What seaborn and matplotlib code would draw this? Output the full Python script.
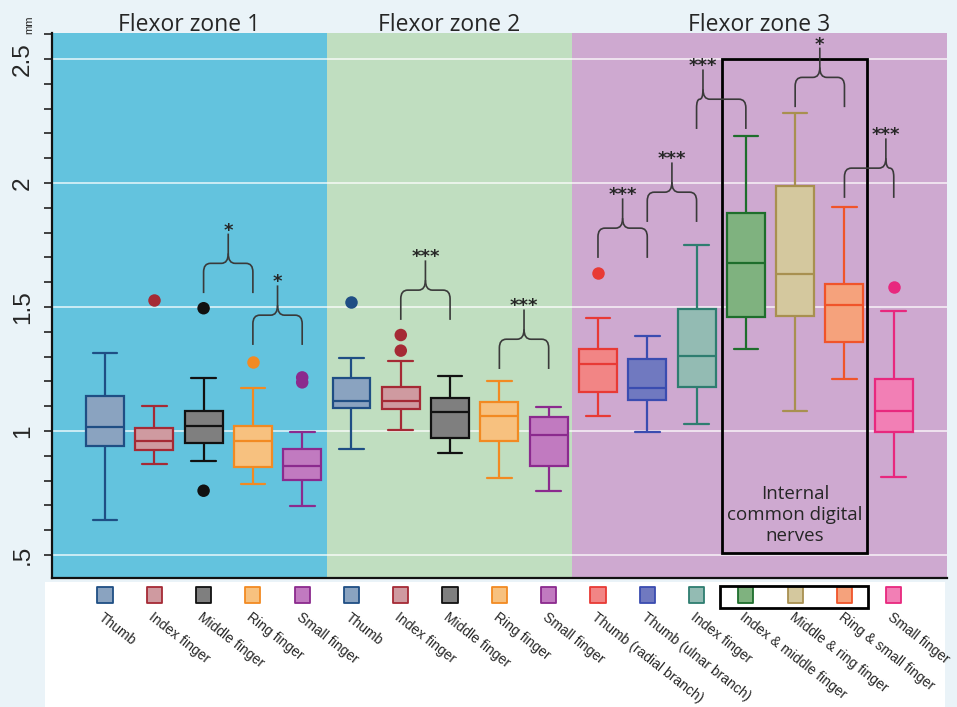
"""Nerve diameter by flexor zone: boxplots with significance braces."""

import matplotlib

matplotlib.use("Agg")

import matplotlib.pyplot as plt
import numpy as np
import pandas as pd
import seaborn as sns
from matplotlib.patches import PathPatch, Rectangle
from matplotlib.path import Path
from matplotlib.ticker import MultipleLocator
from matplotlib.transforms import blended_transform_factory

# ---- data (mm) ----
labels = [
    "Thumb", "Index finger", "Middle finger", "Ring finger", "Small finger",
    "Thumb", "Index finger", "Middle finger", "Ring finger", "Small finger",
    "Thumb (radial branch)", "Thumb (ulnar branch)", "Index finger",
    "Index & middle finger", "Middle & ring finger", "Ring & small finger", "Small finger",
]
zones = [1] * 5 + [2] * 5 + [3] * 7
whisker_low = [0.641, 0.867, 0.880, 0.785, 0.698,
               0.926, 1.004, 0.910, 0.809, 0.758,
               1.060, 0.995, 1.030, 1.329, 1.081, 1.210, 0.816]
q1 = [0.940, 0.923, 0.953, 0.856, 0.802,
      1.091, 1.087, 0.970, 0.961, 0.859,
      1.156, 1.125, 1.176, 1.461, 1.464, 1.360, 0.995]
median = [1.016, 0.960, 1.019, 0.958, 0.860,
          1.122, 1.122, 1.077, 1.062, 0.984,
          1.270, 1.172, 1.301, 1.676, 1.632, 1.508, 1.081]
q3 = [1.141, 1.011, 1.081, 1.019, 0.927,
      1.212, 1.179, 1.134, 1.116, 1.055,
      1.331, 1.290, 1.491, 1.880, 1.988, 1.592, 1.210]
whisker_high = [1.316, 1.101, 1.215, 1.172, 0.995,
                1.293, 1.282, 1.222, 1.203, 1.096,
                1.454, 1.384, 1.750, 2.190, 2.284, 1.904, 1.485]

outlier_box = [1, 2, 2, 3, 4, 4, 5, 6, 6, 10, 16]
outlier_value = [1.528, 1.495, 0.759, 1.278, 1.216, 1.196, 1.519, 1.387, 1.324, 1.636, 1.579]

# significance braces: left box, right box, bottom of arms, cusp position, label
brace_left = [2, 3, 6, 8, 10, 11, 12, 14, 15]
brace_right = [3, 4, 7, 9, 11, 12, 13, 15, 16]
brace_bottom = [1.556, 1.347, 1.448, 1.250, 1.698, 1.843, 2.218, 2.306, 1.940]
brace_cusp = [0.5, 0.5, 0.5, 0.5, 0.5, 0.5, 0.13, 0.5, 0.84]
brace_label = ["*", "*", "***", "***", "***", "***", "***", "*", "***"]

zone_titles = ["Flexor zone 1", "Flexor zone 2", "Flexor zone 3"]
ytick_values = [0.5, 1.0, 1.5, 2.0, 2.5]
ytick_labels = [".5", "1", "1.5", "2", "2.5"]

# ---- styling ----
edge_colors = ["#1f4e84", "#a52a35", "#111111", "#f28a22", "#8b2a8e",
               "#1f4e84", "#a52a35", "#111111", "#f28a22", "#8b2a8e",
               "#e83a35", "#3a4cb0", "#2e7d70", "#1e6e2c", "#a89050", "#f0542a", "#e8287e"]
fill_colors = ["#8aa3c0", "#cf9aa0", "#7f7f7f", "#f7c17f", "#c17ac0",
               "#8aa3c0", "#cf9aa0", "#7f7f7f", "#f7c17f", "#c17ac0",
               "#f28585", "#7079c0", "#93bbb3", "#7fb27f", "#d4c89e", "#f5a27c", "#f27fb5"]
zone_colors = ["#63c3de", "#c0dec0", "#cea9d0"]
zone_edges = [-1.075, 4.5, 9.47, 17.08]

sns.set_theme(style="ticks")
plt.rcParams["font.family"] = ["Liberation Sans", "DejaVu Sans"]

keys = [f"{z}|{i}|{lab}" for i, (z, lab) in enumerate(zip(zones, labels))]
box_df = pd.DataFrame(
    [
        {"key": k, "value": v}
        for k, lo, a, m, b, hi in zip(keys, whisker_low, q1, median, q3, whisker_high)
        for v in (lo, a, m, b, hi)
    ]
)
out_df = pd.DataFrame({"key": [keys[i] for i in outlier_box], "value": outlier_value})
out_palette = {keys[i]: edge_colors[i] for i in set(outlier_box)}

fig = plt.figure(figsize=(9.57, 7.07), dpi=100)
fig.patch.set_facecolor("#eaf3f8")
fig.add_artist(Rectangle((45 / 957, 0), 900 / 957, 125 / 707, transform=fig.transFigure,
                         facecolor="white", edgecolor="none", zorder=-1))
ax = fig.add_axes([52 / 957, 129 / 707, 895 / 957, 545 / 707])

for i, key in enumerate(keys):
    sns.boxplot(
        data=box_df[box_df["key"] == key], x="key", y="value", order=keys,
        color=fill_colors[i], linecolor=edge_colors[i], saturation=1,
        width=0.77, linewidth=1.6, whis=(0, 100), showfliers=False,
        capwidths=0.5, ax=ax,
    )

sns.stripplot(
    data=out_df, x="key", y="value", order=keys, hue="key", palette=out_palette,
    jitter=False, size=9, linewidth=0, legend=False, zorder=6, ax=ax,
)

# zone backgrounds and grid
for lo, hi, col in zip(zone_edges[:-1], zone_edges[1:], zone_colors):
    ax.axvspan(lo, hi, color=col, zorder=0, lw=0)
for yv in ytick_values:
    ax.axhline(yv, color="white", lw=1.1, alpha=0.85, zorder=0.5)

ax.set_xlim(zone_edges[0], zone_edges[-1])
ax.set_ylim(0.407, 2.605)
ax.set_xlabel("")
ax.set_ylabel("")

# y axis
ax.set_yticks(ytick_values)
ax.set_yticklabels(ytick_labels, rotation=90, va="center", fontsize=17.5)
ax.yaxis.set_minor_locator(MultipleLocator(0.1))
ax.tick_params(axis="y", which="both", length=6, width=1.2, color="#222222", pad=7, direction="out")
fig.text(29 / 957, 1 - 25 / 707, "mm", rotation=90, fontsize=8, ha="center", va="center")

# x axis labels under colored keys
positions = np.arange(len(labels))
ax.set_xticks(positions)
ax.set_xticklabels(labels, rotation=-38, ha="left", va="top", rotation_mode="anchor", fontsize=10)
ax.tick_params(axis="x", length=0, pad=23)

for side in ("top", "right"):
    ax.spines[side].set_visible(False)
for side in ("left", "bottom"):
    ax.spines[side].set_color("#111111")
    ax.spines[side].set_linewidth(1.6)

trans = blended_transform_factory(ax.transData, ax.transAxes)
ax.scatter(positions, np.full(len(positions), -0.031), transform=trans, marker="s", s=120,
           c=fill_colors, edgecolors=edge_colors, linewidths=1.3, clip_on=False, zorder=6)
ax.add_patch(Rectangle((12.48, -0.055), 3.0, 0.041, transform=trans, fill=False,
                       edgecolor="black", lw=2, clip_on=False, zorder=6))

# zone titles
for lo, hi, title in zip(zone_edges[:-1], zone_edges[1:], zone_titles):
    ax.text((lo + hi) / 2, 1.003, title, transform=trans, ha="center", va="baseline",
            fontsize=16.5, family=["Open Sans", "DejaVu Sans"])

# internal common digital nerves box
ax.add_patch(Rectangle((12.52, 0.508), 2.94, 1.992, fill=False, edgecolor="black", lw=2, zorder=4))
ax.text(14.0, 0.661, "Internal\ncommon digital\nnerves", ha="center", va="center",
        fontsize=13.5, linespacing=1.22, family=["Open Sans", "DejaVu Sans"], zorder=5)


def draw_brace(x0, x1, yb, frac, text):
    arm, rise, stem, ry = 0.12, 0.04, 0.08, 0.035
    xm = x0 + frac * (x1 - x0)
    yh = yb + arm
    rl = min(0.14, (xm - x0) / 2)
    rr = min(0.14, (x1 - xm) / 2)
    left = Path(
        [(x0, yb), (x0, yh - ry), (x0, yh), (x0 + rl, yh), (xm - rl, yh), (xm, yh),
         (xm, yh + rise), (xm, yh + rise + stem)],
        [Path.MOVETO, Path.LINETO, Path.CURVE3, Path.CURVE3, Path.LINETO, Path.CURVE3,
         Path.CURVE3, Path.LINETO],
    )
    right = Path(
        [(x1, yb), (x1, yh - ry), (x1, yh), (x1 - rr, yh), (xm + rr, yh), (xm, yh),
         (xm, yh + rise)],
        [Path.MOVETO, Path.LINETO, Path.CURVE3, Path.CURVE3, Path.LINETO, Path.CURVE3,
         Path.CURVE3],
    )
    for p in (left, right):
        ax.add_patch(PathPatch(p, fill=False, edgecolor="#3a3a3a", lw=1.2, zorder=5))
    ax.text(xm, yh + rise + stem - 0.008, text, ha="center", va="baseline", fontsize=13,
            fontweight="bold", family="DejaVu Sans", zorder=6)


for x0, x1, yb, frac, text in zip(brace_left, brace_right, brace_bottom, brace_cusp, brace_label):
    draw_brace(x0, x1, yb, frac, text)

fig.savefig("out.png", dpi=100, facecolor=fig.get_facecolor())
